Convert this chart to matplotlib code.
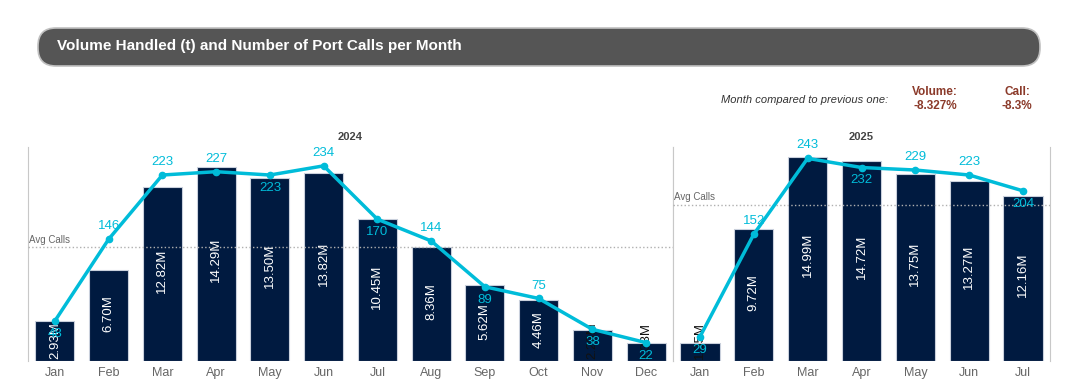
import numpy as np
import matplotlib
matplotlib.use("Agg")
import matplotlib.pyplot as plt
from matplotlib.patches import FancyBboxPatch

plt.rcParams['font.family'] = ['Liberation Sans', 'DejaVu Sans']

# data
months_2024 = ['Jan', 'Feb', 'Mar', 'Apr', 'May', 'Jun', 'Jul', 'Aug', 'Sep', 'Oct', 'Nov', 'Dec']
volume_2024 = [2.93, 6.70, 12.82, 14.29, 13.50, 13.82, 10.45, 8.36, 5.62, 4.46, 2.28, 1.33]
calls_2024 = [48, 146, 223, 227, 223, 234, 170, 144, 89, 75, 38, 22]

months_2025 = ['Jan', 'Feb', 'Mar', 'Apr', 'May', 'Jun', 'Jul']
volume_2025 = [1.35, 9.72, 14.99, 14.72, 13.75, 13.27, 12.16]
calls_2025 = [29, 152, 243, 232, 229, 223, 204]

# label above (1) or below (-1) the point
pos_2024 = [-1, 1, 1, 1, -1, 1, -1, 1, -1, 1, -1, -1]
pos_2025 = [-1, 1, 1, -1, 1, 1, -1]

vol_change = '-8.327%'
call_change = '-8.3%'

navy = '#001a40'
cyan = '#00bcd9'
grid_c = '#c8c8c8'
brown = '#8b3a2a'
vmax = 15.76
cmax = 256.6

fig = plt.figure(figsize=(10.8, 3.89), dpi=100)

# background axes in pixel units for the header
bg = fig.add_axes([0, 0, 1, 1], zorder=-1)
bg.set_xlim(0, 1080)
bg.set_ylim(389, 0)
bg.axis('off')
bg.add_patch(FancyBboxPatch((38, 28), 1002, 38, boxstyle="round,pad=0,rounding_size=18",
                            fc='#555555', ec='#c0c0c0', lw=1.2))
bg.text(57, 46, 'Volume Handled (t) and Number of Port Calls per Month',
        color='white', fontsize=11, fontweight='bold', va='center', ha='left')

bg.text(888, 100, 'Month compared to previous one:', fontsize=8,
        style='italic', color='#333333', ha='right', va='center')
bg.text(935, 92, 'Volume:', fontsize=8.5, fontweight='bold', color=brown, ha='center', va='center')
bg.text(935, 106, vol_change, fontsize=8.5, fontweight='bold', color=brown, ha='center', va='center')
bg.text(1017, 92, 'Call:', fontsize=8.5, fontweight='bold', color=brown, ha='center', va='center')
bg.text(1017, 106, call_change, fontsize=8.5, fontweight='bold', color=brown, ha='center', va='center')


def panel(rect, months, vols, calls, pos, year):
    ax = fig.add_axes(rect)
    x = np.arange(len(months))
    ax.bar(x, vols, width=0.73, color=navy, edgecolor='#c9d0dc', lw=0.8, zorder=2)
    ax.set_xlim(-0.5, len(months) - 0.5)
    ax.set_ylim(0, vmax)
    ax.set_yticks([])
    ax.set_xticks(x)
    ax.set_xticklabels(months, fontsize=9, color='#666666')
    ax.tick_params(axis='x', length=0, pad=4)
    for s in ['top', 'bottom', 'right']:
        ax.spines[s].set_visible(False)
    ax.spines['left'].set_color(grid_c)
    ax.set_title(year, fontsize=8, fontweight='bold', color='#444444', pad=5)
    for xi, v in zip(x, vols):
        txt = f'{v:.2f}M'
        if v > 4:
            ax.text(xi, v * 0.52, txt, rotation=90, ha='center', va='center',
                    color='white', fontsize=9.5, zorder=3)
        elif v > 2.5:
            ax.text(xi, 0.15, txt, rotation=90, ha='center', va='bottom',
                    color='white', fontsize=9.5, zorder=3)
        else:
            ax.text(xi, 0.15, txt, rotation=90, ha='center', va='bottom',
                    color='#111111', fontsize=9.5, zorder=3)

    ax2 = ax.twinx()
    ax2.set_ylim(0, cmax)
    ax2.set_yticks([])
    for s in ['top', 'bottom', 'left']:
        ax2.spines[s].set_visible(False)
    ax2.spines['right'].set_color(grid_c)
    avg = np.mean(calls)
    ax2.axhline(avg, color='#b0b0b0', ls=':', lw=1, zorder=1)
    ax2.text(-0.48, avg + 3, 'Avg Calls', fontsize=7, color='#666666', ha='left', va='bottom')
    ax2.plot(x, calls, color=cyan, lw=2.5, marker='o', ms=4.5, zorder=4)
    for xi, c, p in zip(x, calls, pos):
        off = 5 if p > 0 else -5
        ax2.annotate(str(c), (xi, c), xytext=(0, off), textcoords='offset points',
                     ha='center', va='bottom' if p > 0 else 'top', color=cyan,
                     fontsize=9.5, zorder=5)
    return ax


panel([28 / 1080, 28 / 389, 645 / 1080, 214 / 389], months_2024, volume_2024, calls_2024,
      pos_2024, '2024')
panel([673 / 1080, 28 / 389, 377 / 1080, 214 / 389], months_2025, volume_2025, calls_2025,
      pos_2025, '2025')

fig.savefig('out.png', dpi=100)
